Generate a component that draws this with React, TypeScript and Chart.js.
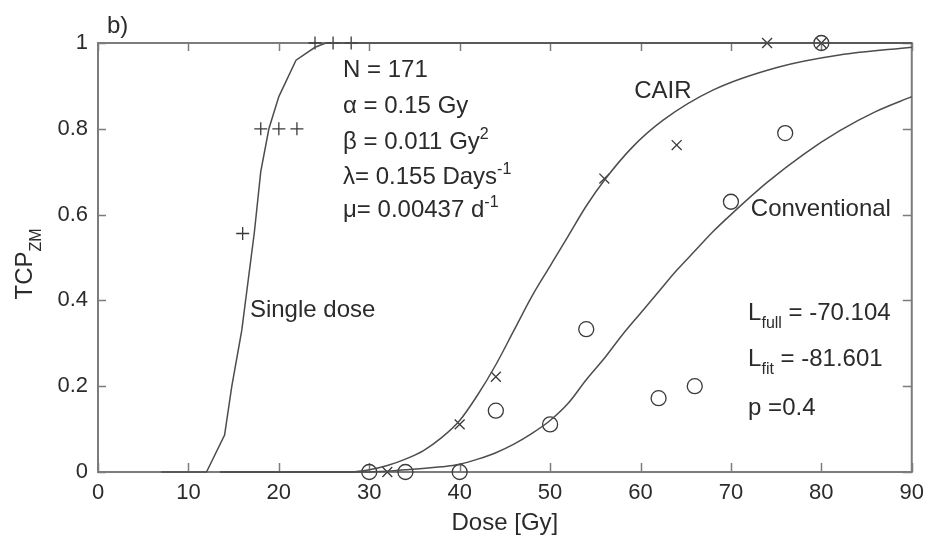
import React, { useEffect, useRef } from "react";
import { Chart, registerables } from "chart.js";

Chart.register(...registerables);

// ---- Data ----
const xTickValues = [0, 10, 20, 30, 40, 50, 60, 70, 80, 90];
const yTickValues = [0, 0.2, 0.4, 0.6, 0.8, 1];

// fitted curves
const singleCurveDose = [7, 12, 14, 14.8, 15.9, 17.3, 18, 18.9, 20, 21.9, 24, 25.2, 90];
const singleCurveTcp = [0, 0, 0.086, 0.2, 0.33, 0.56, 0.7, 0.8, 0.875, 0.96, 0.99, 1, 1];

const cairCurveDose = [13.5, 28, 30, 32, 34, 36, 38, 40, 42, 44, 46, 48, 50, 52, 54, 56, 59, 62.5, 68, 75.3, 82, 90];
const cairCurveTcp = [0, 0, 0.005, 0.015, 0.03, 0.05, 0.08, 0.12, 0.18, 0.25, 0.33, 0.41, 0.48, 0.55, 0.62, 0.68, 0.755, 0.82, 0.89, 0.944, 0.972, 0.99];

const convCurveDose = [13.5, 30, 34, 38, 40, 42, 44, 46, 48, 50, 52, 54, 56, 58, 60, 62, 64, 66, 68, 70, 74, 78, 82, 86, 90];
const convCurveTcp = [0, 0, 0.005, 0.012, 0.018, 0.03, 0.045, 0.065, 0.09, 0.12, 0.16, 0.215, 0.265, 0.32, 0.37, 0.42, 0.47, 0.515, 0.56, 0.6, 0.675, 0.74, 0.795, 0.84, 0.875];

// observed points
const singleDose = [16, 18, 20, 22, 24, 26, 28];
const singleTcp = [0.556, 0.8, 0.8, 0.8, 1, 1, 1];

const cairDose = [32, 40, 44, 56, 64, 74, 80];
const cairTcp = [0, 0.111, 0.222, 0.684, 0.762, 1, 1];

const convDose = [30, 34, 40, 44, 50, 54, 62, 66, 70, 76, 80];
const convTcp = [0, 0, 0, 0.143, 0.111, 0.333, 0.172, 0.2, 0.63, 0.79, 1];

const FONT = '"Liberation Sans", Arial, Helvetica, sans-serif';
const TEXT = "#2b2b2b";
const LINE = "#4d4d4d";
const AXIS = "#7c7c7c";

type Part = { t: string; size?: number; dy?: number };
type Note = { x: number; y: number; parts: Part[] };

// annotation anchors in data units
const notes: Note[] = [
  { x: 27.1, y: 0.921, parts: [{ t: "N = 171" }] },
  { x: 27.1, y: 0.837, parts: [{ t: "\u03b1 = 0.15 Gy" }] },
  { x: 27.1, y: 0.753, parts: [{ t: "\u03b2 = 0.011 Gy" }, { t: "2", size: 16, dy: -10 }] },
  { x: 27.1, y: 0.671, parts: [{ t: "\u03bb= 0.155 Days" }, { t: "-1", size: 16, dy: -10 }] },
  { x: 27.1, y: 0.594, parts: [{ t: "\u03bc= 0.00437 d" }, { t: "-1", size: 16, dy: -10 }] },
  { x: 59.3, y: 0.872, parts: [{ t: "CAIR" }] },
  { x: 72.2, y: 0.597, parts: [{ t: "Conventional" }] },
  { x: 16.8, y: 0.361, parts: [{ t: "Single dose" }] },
  { x: 71.9, y: 0.354, parts: [{ t: "L" }, { t: "full", size: 16, dy: 8 }, { t: " = -70.104" }] },
  { x: 71.9, y: 0.247, parts: [{ t: "L" }, { t: "fit", size: 16, dy: 8 }, { t: " = -81.601" }] },
  { x: 71.9, y: 0.133, parts: [{ t: "p =0.4" }] },
];

function drawRich(ctx: CanvasRenderingContext2D, x: number, y: number, parts: Part[], base: number) {
  let cx = x;
  for (const p of parts) {
    const size = p.size ?? base;
    ctx.font = `${size}px ${FONT}`;
    ctx.fillText(p.t, cx, y + (p.dy ?? 0));
    cx += ctx.measureText(p.t).width;
  }
}

const zip = (xs: number[], ys: number[]) => xs.map((v, i) => ({ x: v, y: ys[i] }));

const overlay = {
  id: "overlay",
  beforeDatasetsDraw(chart: any) {
    const { ctx, chartArea: a, scales } = chart;
    const xs = scales.x;
    const ys = scales.y;
    ctx.save();
    ctx.strokeStyle = AXIS;
    ctx.lineWidth = 1.5;
    ctx.beginPath();
    for (const v of xTickValues) {
      const px = Math.round(xs.getPixelForValue(v)) + 0.5;
      ctx.moveTo(px, a.bottom);
      ctx.lineTo(px, a.bottom - 9);
      ctx.moveTo(px, a.top);
      ctx.lineTo(px, a.top + 8);
    }
    for (const v of yTickValues) {
      const py = Math.round(ys.getPixelForValue(v)) + 0.5;
      ctx.moveTo(a.left, py);
      ctx.lineTo(a.left + 8, py);
      ctx.moveTo(a.right, py);
      ctx.lineTo(a.right - 9, py);
    }
    ctx.stroke();
    ctx.lineWidth = 2;
    ctx.strokeRect(a.left, a.top, a.right - a.left, a.bottom - a.top);
    ctx.restore();
  },
  afterDraw(chart: any) {
    const { ctx, chartArea: a, scales } = chart;
    const xs = scales.x;
    const ys = scales.y;
    ctx.save();
    ctx.fillStyle = TEXT;
    ctx.textBaseline = "alphabetic";
    ctx.textAlign = "left";
    for (const n of notes) {
      drawRich(ctx, xs.getPixelForValue(n.x), ys.getPixelForValue(n.y), n.parts, 24);
    }
    // panel label
    ctx.font = `24px ${FONT}`;
    ctx.fillText("b)", a.left + 9, a.top - 10);
    // x title
    ctx.textAlign = "center";
    ctx.fillText("Dose [Gy]", (a.left + a.right) / 2, 530);
    // y title (rotated)
    ctx.textAlign = "left";
    ctx.translate(32, (a.top + a.bottom) / 2 + 42);
    ctx.rotate(-Math.PI / 2);
    drawRich(ctx, 0, 0, [{ t: "TCP" }, { t: "ZM", size: 16, dy: 9 }], 24);
    ctx.restore();
  },
};

export default function App() {
  const ref = useRef<HTMLCanvasElement | null>(null);

  useEffect(() => {
    if (!ref.current) return;
    const curve = (label: string, xs: number[], ys: number[], smooth: boolean) => ({
      type: "line" as const,
      label,
      data: zip(xs, ys),
      borderColor: LINE,
      borderWidth: 1.5,
      pointRadius: 0,
      showLine: true,
      fill: false,
      tension: smooth ? 0.4 : 0,
      cubicInterpolationMode: smooth ? ("monotone" as const) : ("default" as const),
      clip: false as const,
    });
    const marks = (label: string, xs: number[], ys: number[], style: string, r: number) => ({
      type: "scatter" as const,
      label,
      data: zip(xs, ys),
      pointStyle: style,
      pointRadius: r,
      pointBorderColor: "#3a3a3a",
      pointBackgroundColor: "rgba(0,0,0,0)",
      pointBorderWidth: 1.3,
      showLine: false,
      clip: false as const,
    });

    const chart = new Chart(ref.current, {
      type: "scatter",
      data: {
        datasets: [
          curve("Single dose fit", singleCurveDose, singleCurveTcp, false),
          curve("CAIR fit", cairCurveDose, cairCurveTcp, true),
          curve("Conventional fit", convCurveDose, convCurveTcp, true),
          marks("Single dose", singleDose, singleTcp, "cross", 6.5),
          marks("CAIR", cairDose, cairTcp, "crossRot", 7),
          marks("Conventional", convDose, convTcp, "circle", 7.5),
        ] as any,
      },
      options: {
        responsive: false,
        animation: false,
        events: [],
        layout: { padding: { top: 43, right: 15, left: 0, bottom: 0 } },
        plugins: {
          legend: { display: false },
          tooltip: { enabled: false },
          title: { display: false },
        },
        scales: {
          x: {
            type: "linear",
            min: 0,
            max: 90,
            afterBuildTicks: (s: any) => {
              s.ticks = xTickValues.map((v) => ({ value: v }));
            },
            afterFit: (s: any) => {
              s.height = 67;
            },
            grid: { display: false, drawTicks: false },
            border: { display: false },
            ticks: {
              padding: 8,
              color: TEXT,
              font: { family: FONT, size: 22 },
              maxRotation: 0,
              autoSkip: false,
              callback: (v: any) => String(Math.round(Number(v))),
            },
          },
          y: {
            type: "linear",
            min: 0,
            max: 1,
            afterBuildTicks: (s: any) => {
              s.ticks = yTickValues.map((v) => ({ value: v }));
            },
            afterFit: (s: any) => {
              s.width = 98;
            },
            grid: { display: false, drawTicks: false },
            border: { display: false },
            ticks: {
              padding: 10,
              color: TEXT,
              font: { family: FONT, size: 22 },
              autoSkip: false,
              callback: (v: any) => String(Math.round(Number(v) * 10) / 10),
            },
          },
        },
      },
      plugins: [overlay],
    });
    return () => chart.destroy();
  }, []);

  return (
    <canvas
      ref={ref}
      width={932}
      height={539}
      style={{ position: "absolute", left: 0, top: 0, background: "#ffffff" }}
    />
  );
}
